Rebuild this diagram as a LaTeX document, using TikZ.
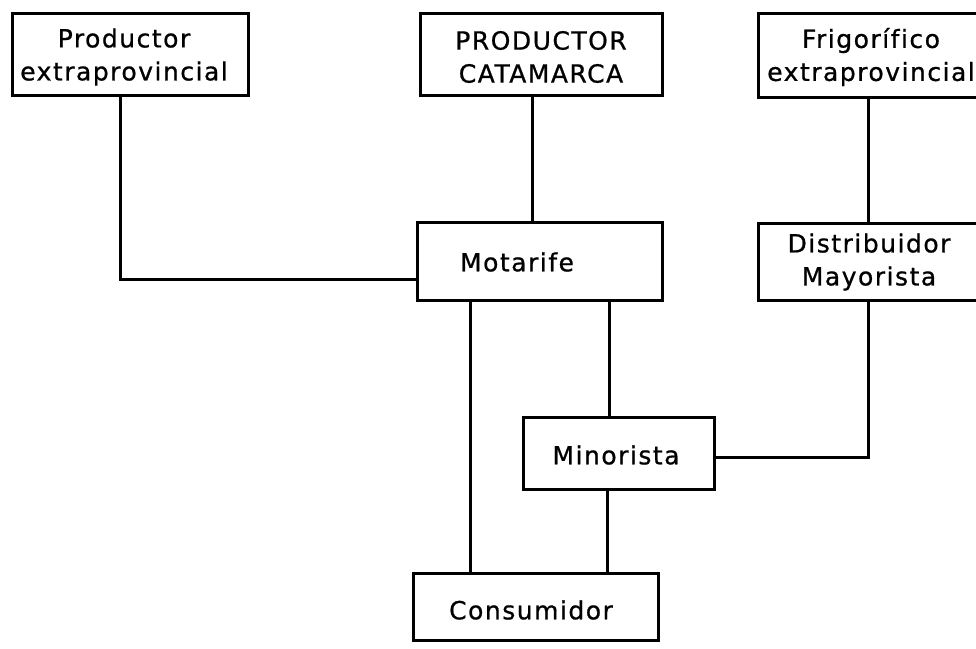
\documentclass[tikz,border=0pt]{standalone}
\usepackage{fontspec}
\setmainfont{DejaVu Sans}[LetterSpace=6,Ligatures=NoCommon,FakeBold=0.8]
\begin{document}
\begin{tikzpicture}[x=1pt,y=-1pt,
  box/.style={draw=black,line width=3pt,rectangle,inner sep=0pt},
  lbl/.style={inner sep=0pt,align=center,font=\fontsize{25}{33}\selectfont},
  link/.style={draw=black,line width=3pt}]
  \useasboundingbox (0,0) rectangle (976,648);
  % boxes
  \node[box,minimum width=236pt,minimum height=82pt] (pe) at (130,54) {};
  \node[box,minimum width=242pt,minimum height=82pt] (pc) at (541,54) {};
  \node[box,minimum width=232pt,minimum height=84pt] (fe) at (874,55) {};
  \node[box,minimum width=245pt,minimum height=78pt] (mot) at (539.5,261) {};
  \node[box,minimum width=222pt,minimum height=77pt] (dm) at (869,261.5) {};
  \node[box,minimum width=191pt,minimum height=72pt] (min) at (618.5,453) {};
  \node[box,minimum width=245pt,minimum height=67pt] (con) at (535.5,606.5) {};
  % labels
  \node[lbl] (peT) at (124,57) {Productor\\extraprovincial};
  \node[lbl] (pcT) at (541,57) {PRODUCTOR\\CATAMARCA};
  \node[lbl] (feT) at (871,57) {Frigorífico\\extraprovincial};
  \node[lbl] (motT) at (517,262) {Motarife};
  \node[lbl] (dmT) at (869,262) {Distribuidor\\Mayorista};
  \node[lbl] (minT) at (616,455) {Minorista};
  \node[lbl] (conT) at (531,610) {Consumidor};
  % connectors
  \coordinate (k1) at (120,279);
  \coordinate (k2) at (532,0);
  \coordinate (k3) at (868,0);
  \coordinate (k4) at (868,457);
  \coordinate (k5) at (470,0);
  \coordinate (k6) at (609,0);
  \coordinate (k7) at (607,0);
  \draw[link] (pe.south -| k1) |- (mot.west |- k1);
  \draw[link] (pc.south -| k2) -- (mot.north -| k2);
  \draw[link] (fe.south -| k3) -- (dm.north -| k3);
  \draw[link] (dm.south -| k4) |- (min.east |- k4);
  \draw[link] (mot.south -| k5) -- (con.north -| k5);
  \draw[link] (mot.south -| k6) -- (min.north -| k6);
  \draw[link] (min.south -| k7) -- (con.north -| k7);
\end{tikzpicture}
\end{document}
